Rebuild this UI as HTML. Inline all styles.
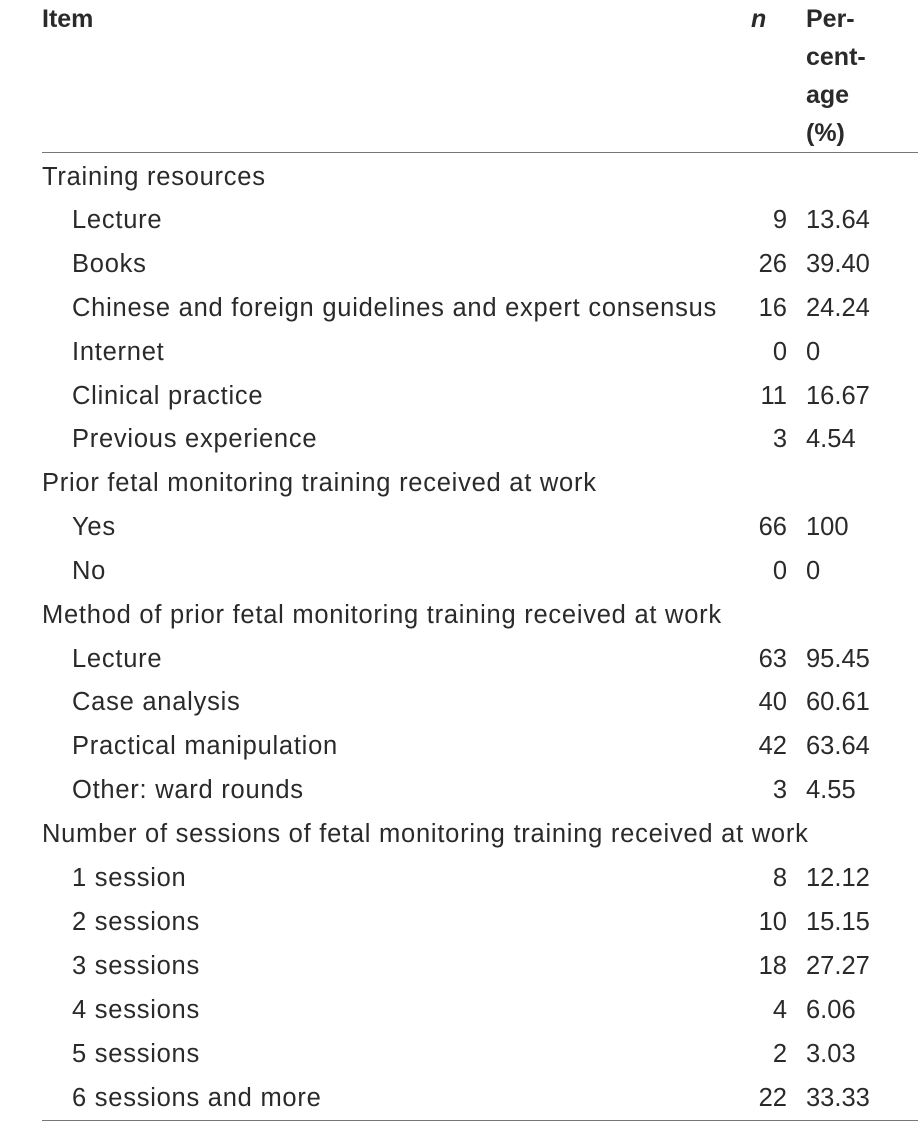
<!DOCTYPE html>
<html><head><meta charset="utf-8"><style>
body{margin:0;width:918px;height:1128px;background:#fff;position:relative;overflow:hidden;font-family:"Liberation Sans",sans-serif;color:#2a2a2a;}
.r{position:absolute;left:0;width:918px;height:44px;line-height:44px;font-size:25.5px;letter-spacing:0.75px;}
.r span{position:absolute;top:0;white-space:nowrap;}
.c{left:42px}.i{left:72px}
.n{right:131px;text-align:right;letter-spacing:0}
.p{left:806px;letter-spacing:0}
.h{position:absolute;font-size:25px;font-weight:bold;line-height:38px;}
.rule{position:absolute;left:42px;right:0;height:1px;background:#777;}
</style></head><body>
<div class="h" style="left:42px;top:0">Item</div>
<div class="h" style="left:751px;top:0;font-style:italic">n</div>
<div class="h" style="left:806px;top:0">Per-<br>cent-<br>age<br>(%)</div>
<div class="rule" style="top:152px"></div>
<div class="r" style="top:155px"><span class="c">Training resources</span></div>
<div class="r" style="top:198px"><span class="i">Lecture</span><span class="n">9</span><span class="p">13.64</span></div>
<div class="r" style="top:242px"><span class="i">Books</span><span class="n">26</span><span class="p">39.40</span></div>
<div class="r" style="top:286px"><span class="i">Chinese and foreign guidelines and expert consensus</span><span class="n">16</span><span class="p">24.24</span></div>
<div class="r" style="top:330px"><span class="i">Internet</span><span class="n">0</span><span class="p">0</span></div>
<div class="r" style="top:374px"><span class="i">Clinical practice</span><span class="n">11</span><span class="p">16.67</span></div>
<div class="r" style="top:417px"><span class="i">Previous experience</span><span class="n">3</span><span class="p">4.54</span></div>
<div class="r" style="top:461px"><span class="c">Prior fetal monitoring training received at work</span></div>
<div class="r" style="top:505px"><span class="i">Yes</span><span class="n">66</span><span class="p">100</span></div>
<div class="r" style="top:549px"><span class="i">No</span><span class="n">0</span><span class="p">0</span></div>
<div class="r" style="top:593px"><span class="c">Method of prior fetal monitoring training received at work</span></div>
<div class="r" style="top:637px"><span class="i">Lecture</span><span class="n">63</span><span class="p">95.45</span></div>
<div class="r" style="top:680px"><span class="i">Case analysis</span><span class="n">40</span><span class="p">60.61</span></div>
<div class="r" style="top:724px"><span class="i">Practical manipulation</span><span class="n">42</span><span class="p">63.64</span></div>
<div class="r" style="top:768px"><span class="i">Other: ward rounds</span><span class="n">3</span><span class="p">4.55</span></div>
<div class="r" style="top:812px"><span class="c">Number of sessions of fetal monitoring training received at work</span></div>
<div class="r" style="top:856px"><span class="i">1 session</span><span class="n">8</span><span class="p">12.12</span></div>
<div class="r" style="top:900px"><span class="i">2 sessions</span><span class="n">10</span><span class="p">15.15</span></div>
<div class="r" style="top:944px"><span class="i">3 sessions</span><span class="n">18</span><span class="p">27.27</span></div>
<div class="r" style="top:988px"><span class="i">4 sessions</span><span class="n">4</span><span class="p">6.06</span></div>
<div class="r" style="top:1032px"><span class="i">5 sessions</span><span class="n">2</span><span class="p">3.03</span></div>
<div class="r" style="top:1076px"><span class="i">6 sessions and more</span><span class="n">22</span><span class="p">33.33</span></div>
<div class="rule" style="top:1120px;right:0"></div>
</body></html>
